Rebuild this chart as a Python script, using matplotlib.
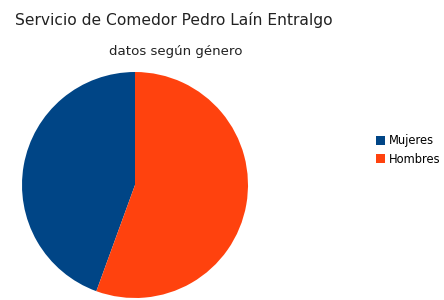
import numpy as np
import matplotlib.pyplot as plt
from matplotlib.patches import Patch

labels = ["Mujeres", "Hombres"]
values = [4, 5]
colors = ["#004586", "#ff420e"]

fig = plt.figure(figsize=(4.44, 3.0), dpi=100)
fig.patch.set_facecolor("white")

ax = fig.add_axes([22 / 444, 2 / 300, 226 / 444, 226 / 300])
ax.pie(values, colors=colors, startangle=90, counterclock=True,
       wedgeprops=dict(linewidth=0))
ax.set_aspect("auto")
ax.set_xlim(-1, 1)
ax.set_ylim(-1, 1)

fig.text(15 / 444, 1 - 20 / 300, "Servicio de Comedor Pedro Laín Entralgo",
         fontsize=11.2, ha="left", va="center", color="#222222")
fig.text(176 / 444, 1 - 52 / 300, "datos según género",
         fontsize=9.6, ha="center", va="center", color="#222222")

handles = [Patch(facecolor=c, edgecolor="none") for c in colors]
fig.legend(handles, labels, loc="center left",
           bbox_to_anchor=(368 / 444, 1 - 150 / 300),
           frameon=False, fontsize=8.3, handlelength=0.75, handleheight=0.75,
           handletextpad=0.35, labelspacing=0.45, borderpad=0.2)

fig.savefig("out.png", dpi=100)
